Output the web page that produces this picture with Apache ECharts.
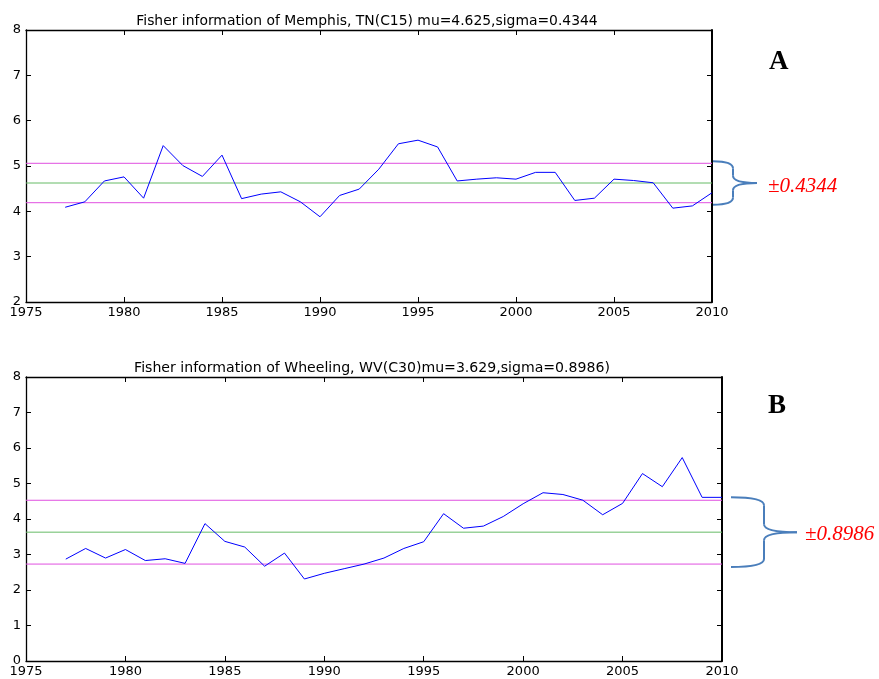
<!DOCTYPE html>
<html>
<head>
<meta charset="utf-8">
<script src="https://cdn.jsdelivr.net/npm/echarts@6/dist/echarts.min.js"></script>
<style>
html,body{margin:0;padding:0;background:#fff;}
#chart{width:879px;height:679px;}
</style>
</head>
<body>
<div id="chart"></div>
<script>
const years = [1977,1978,1979,1980,1981,1982,1983,1984,1985,1986,1987,1988,1989,1990,1991,1992,1993,1994,1995,1996,1997,1998,1999,2000,2001,2002,2003,2004,2005,2006,2007,2008,2009,2010];
const memphis = [4.09,4.21,4.67,4.76,4.29,5.45,5.01,4.77,5.24,4.28,4.38,4.43,4.21,3.88,4.35,4.49,4.93,5.49,5.57,5.42,4.67,4.71,4.74,4.71,4.86,4.86,4.24,4.29,4.71,4.68,4.63,4.07,4.12,4.41];
const wheeling = [2.87,3.17,2.90,3.14,2.83,2.88,2.75,3.87,3.37,3.21,2.67,3.04,2.31,2.47,2.60,2.73,2.90,3.17,3.36,4.15,3.74,3.80,4.07,4.43,4.74,4.69,4.53,4.12,4.44,5.28,4.91,5.73,4.61,4.61];
const muA = 4.625, sigmaA = 0.4344;
const muB = 3.629, sigmaB = 0.8986;
const titleA = 'Fisher information of Memphis, TN(C15) mu=4.625,sigma=0.4344';
const titleB = 'Fisher information of Wheeling, WV(C30)mu=3.629,sigma=0.8986)';
const xTicks = [1975,1980,1985,1990,1995,2000,2005,2010];

const FONT = 'DejaVu Sans';
const chart = echarts.init(document.getElementById('chart'), null, {renderer:'canvas'});

function xAx(g, pos, showLabel){
  return {type:'value', gridIndex:g, position:pos, min:xTicks[0], max:xTicks[xTicks.length-1], interval:5,
    axisLine:{onZero:false, lineStyle:{color:'#000', width:1.3}},
    axisTick:{inside:true, length:5, lineStyle:{color:'#000'}},
    axisLabel:{show:showLabel, color:'#000', fontSize:13, fontFamily:FONT, margin:4, formatter:function(v){return String(v);}},
    splitLine:{show:false}};
}
function yAx(g, pos, showLabel, mn, mx){
  return {type:'value', gridIndex:g, position:pos, min:mn, max:mx, interval:1,
    axisLine:{onZero:false, lineStyle:{color:'#000', width: pos==='right'?2:1.3}},
    axisTick:{inside:true, length:5, lineStyle:{color:'#000'}},
    axisLabel:{show:showLabel, color:'#000', fontSize:13, fontFamily:FONT, margin:5},
    splitLine:{show:false}};
}
function hline(xi, yi, v, color){
  return {type:'line', xAxisIndex:xi, yAxisIndex:yi, data:[[xTicks[0],v],[xTicks[xTicks.length-1],v]],
    showSymbol:false, silent:true, lineStyle:{color:color, width:1}, z:1};
}
const pairsA = years.map((y,i)=>[y,memphis[i]]);
const pairsB = years.map((y,i)=>[y,wheeling[i]]);
const magenta = '#e050e0', green = '#66bb66', blue = '#0000ff';

chart.setOption({
  animation:false,
  backgroundColor:'#fff',
  title:[
    {text:titleA, left:362, top:9, textAlign:'center', textStyle:{fontSize:13.9, fontWeight:'normal', fontFamily:FONT, color:'#000'}},
    {text:titleB, left:367, top:356, textAlign:'center', textStyle:{fontSize:14.1, fontWeight:'normal', fontFamily:FONT, color:'#000'}}
  ],
  grid:[
    {left:26, top:30, width:686, height:272},
    {left:26, top:377, width:696, height:284}
  ],
  xAxis:[xAx(0,'bottom',true), xAx(0,'top',false), xAx(1,'bottom',true), xAx(1,'top',false)],
  yAxis:[yAx(0,'left',true,2,8), yAx(0,'right',false,2,8), yAx(1,'left',true,0,8), yAx(1,'right',false,0,8)],
  series:[
    hline(0,0,muA+sigmaA,magenta), hline(0,0,muA,green), hline(0,0,muA-sigmaA,magenta),
    {type:'line', xAxisIndex:0, yAxisIndex:0, data:pairsA, showSymbol:false, lineStyle:{color:blue, width:1}, z:3},
    hline(2,2,muB+sigmaB,magenta), hline(2,2,muB,green), hline(2,2,muB-sigmaB,magenta),
    {type:'line', xAxisIndex:2, yAxisIndex:2, data:pairsB, showSymbol:false, lineStyle:{color:blue, width:1}, z:3}
  ]
});

const braceColor = '#4a7ebb';
function brace(x0,x1,x2,yT,yB){
  const yM=(yT+yB)/2, r=Math.min(8,(yB-yT)/6);
  const st = {stroke:braceColor, lineWidth:2, fill:null};
  return [
    {type:'bezierCurve', shape:{x1:x0,y1:yT,cpx1:x1,cpy1:yT,x2:x1,y2:yT+r}, style:st},
    {type:'line', shape:{x1:x1,y1:yT+r,x2:x1,y2:yM-r}, style:st},
    {type:'bezierCurve', shape:{x1:x1,y1:yM-r,cpx1:x1,cpy1:yM,x2:x2,y2:yM}, style:st},
    {type:'bezierCurve', shape:{x1:x2,y1:yM,cpx1:x1,cpy1:yM,x2:x1,y2:yM+r}, style:st},
    {type:'line', shape:{x1:x1,y1:yM+r,x2:x1,y2:yB-r}, style:st},
    {type:'bezierCurve', shape:{x1:x1,y1:yB-r,cpx1:x1,cpy1:yB,x2:x0,y2:yB}, style:st}
  ];
}
const aTop = chart.convertToPixel({yAxisIndex:0}, muA+sigmaA)-2;
const aBot = chart.convertToPixel({yAxisIndex:0}, muA-sigmaA)+2;
const bTop = chart.convertToPixel({yAxisIndex:2}, muB+sigmaB)-3;
const bBot = chart.convertToPixel({yAxisIndex:2}, muB-sigmaB)+3;
chart.setOption({
  graphic: brace(713,733,757,aTop,aBot).concat(brace(731,764,797,bTop,bBot)).concat([
    {type:'text', x:769, y:49, style:{text:'A', font:'bold 27px "Liberation Serif"', fill:'#000'}},
    {type:'text', x:768, y:393, style:{text:'B', font:'bold 27px "Liberation Serif"', fill:'#000'}},
    {type:'text', x:768, y:(aTop+aBot)/2+3, style:{text:'\u00b10.4344', font:'italic 21px "Liberation Serif"', fill:'#ff0000', verticalAlign:'middle'}},
    {type:'text', x:805, y:(bTop+bBot)/2+2, style:{text:'\u00b10.8986', font:'italic 21px "Liberation Serif"', fill:'#ff0000', verticalAlign:'middle'}}
  ])
});
</script>
</body>
</html>
